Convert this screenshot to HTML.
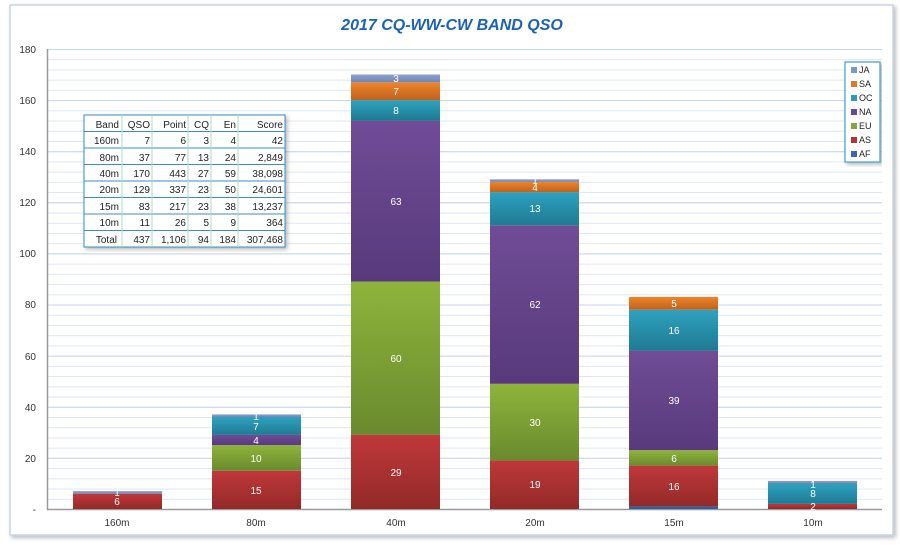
<!DOCTYPE html>
<html><head><meta charset="utf-8"><style>
body{margin:0;background:#fff;}
svg{display:block;font-family:"Liberation Sans",sans-serif;}
</style></head><body>
<svg width="900" height="545" viewBox="0 0 900 545">
<defs>
<pattern id="g" x="0" y="509" width="900" height="10.2222" patternUnits="userSpaceOnUse">
<line x1="0" y1="0.5" x2="900" y2="0.5" stroke="#dce6f4" stroke-width="1"/>
</pattern>
<linearGradient id="AS" x1="0" y1="0" x2="0" y2="1"><stop offset="0" stop-color="#c0383a"/><stop offset="1" stop-color="#922a28"/></linearGradient>
<linearGradient id="EU" x1="0" y1="0" x2="0" y2="1"><stop offset="0" stop-color="#8eb43c"/><stop offset="1" stop-color="#6a8a2e"/></linearGradient>
<linearGradient id="NA" x1="0" y1="0" x2="0" y2="1"><stop offset="0" stop-color="#704c96"/><stop offset="1" stop-color="#583a7c"/></linearGradient>
<linearGradient id="OC" x1="0" y1="0" x2="0" y2="1"><stop offset="0" stop-color="#2ea2c0"/><stop offset="1" stop-color="#1f7a92"/></linearGradient>
<linearGradient id="SA" x1="0" y1="0" x2="0" y2="1"><stop offset="0" stop-color="#ee8428"/><stop offset="1" stop-color="#c0621e"/></linearGradient>
<linearGradient id="JA" x1="0" y1="0" x2="0" y2="1"><stop offset="0" stop-color="#8ea2cc"/><stop offset="1" stop-color="#6e84b4"/></linearGradient>
<filter id="sh" x="-5%" y="-5%" width="110%" height="110%"><feDropShadow dx="2" dy="2" stdDeviation="2" flood-color="#888" flood-opacity="0.6"/></filter>
</defs>
<rect x="10" y="5" width="883" height="530" fill="#fff" stroke="#c8d4e8" stroke-width="1.5" filter="url(#sh)"/>
<text x="452" y="30" text-anchor="middle" font-size="16" font-weight="bold" font-style="italic" fill="#1a62b8">2017 CQ-WW-CW BAND QSO</text>
<rect x="47" y="49" width="835" height="460" fill="url(#g)"/>
<g stroke="#c6d4ea" stroke-width="1">
<line x1="47" y1="49.5" x2="882" y2="49.5"/><line x1="47" y1="100.6" x2="882" y2="100.6"/><line x1="47" y1="151.7" x2="882" y2="151.7"/><line x1="47" y1="202.8" x2="882" y2="202.8"/><line x1="47" y1="253.9" x2="882" y2="253.9"/><line x1="47" y1="305" x2="882" y2="305"/><line x1="47" y1="356.1" x2="882" y2="356.1"/><line x1="47" y1="407.2" x2="882" y2="407.2"/><line x1="47" y1="458.3" x2="882" y2="458.3"/>
</g>
<line x1="47.5" y1="49" x2="47.5" y2="510" stroke="#999" stroke-width="1.5"/>
<line x1="47" y1="509.5" x2="882" y2="509.5" stroke="#999" stroke-width="1.5"/>
<g font-size="10" fill="#333" text-anchor="end">
<text x="36" y="53">180</text><text x="36" y="104">160</text><text x="36" y="155">140</text><text x="36" y="206">120</text><text x="36" y="257">100</text><text x="36" y="308">80</text><text x="36" y="360">60</text><text x="36" y="411">40</text><text x="36" y="462">20</text><text x="36" y="513">-</text>
</g>
<g font-size="10" fill="#333" text-anchor="middle">
<text x="117" y="526">160m</text><text x="256" y="526">80m</text><text x="396" y="526">40m</text><text x="535" y="526">20m</text><text x="674" y="526">15m</text><text x="813" y="526">10m</text>
</g>
<g>
<rect x="73" y="493.7" width="89" height="15.3" fill="url(#AS)"/>
<rect x="73" y="491.1" width="89" height="2.6" fill="url(#JA)"/>
<rect x="212" y="470.7" width="89" height="38.3" fill="url(#AS)"/>
<rect x="212" y="445.1" width="89" height="25.6" fill="url(#EU)"/>
<rect x="212" y="434.9" width="89" height="10.2" fill="url(#NA)"/>
<rect x="212" y="417" width="89" height="17.9" fill="url(#OC)"/>
<rect x="212" y="414.4" width="89" height="2.6" fill="url(#JA)"/>
<rect x="351" y="434.9" width="89" height="74.1" fill="url(#AS)"/>
<rect x="351" y="281.6" width="89" height="153.3" fill="url(#EU)"/>
<rect x="351" y="120.6" width="89" height="161" fill="url(#NA)"/>
<rect x="351" y="100.2" width="89" height="20.4" fill="url(#OC)"/>
<rect x="351" y="82.3" width="89" height="17.9" fill="url(#SA)"/>
<rect x="351" y="74.5" width="89" height="7.8" fill="url(#JA)"/>
<rect x="490" y="460.4" width="89" height="48.6" fill="url(#AS)"/>
<rect x="490" y="383.8" width="89" height="76.6" fill="url(#EU)"/>
<rect x="490" y="225.3" width="89" height="158.5" fill="url(#NA)"/>
<rect x="490" y="192.1" width="89" height="33.2" fill="url(#OC)"/>
<rect x="490" y="181.9" width="89" height="10.2" fill="url(#SA)"/>
<rect x="490" y="179.3" width="89" height="2.6" fill="url(#JA)"/>
<rect x="629" y="506.4" width="89" height="2.6" fill="#2f5f9e"/>
<rect x="629" y="465.6" width="89" height="40.8" fill="url(#AS)"/>
<rect x="629" y="450.2" width="89" height="15.4" fill="url(#EU)"/>
<rect x="629" y="350.6" width="89" height="99.6" fill="url(#NA)"/>
<rect x="629" y="309.7" width="89" height="40.9" fill="url(#OC)"/>
<rect x="629" y="296.9" width="89" height="12.8" fill="url(#SA)"/>
<rect x="768" y="503.9" width="89" height="5.1" fill="url(#AS)"/>
<rect x="768" y="483.5" width="89" height="20.4" fill="url(#OC)"/>
<rect x="768" y="480.9" width="89" height="2.6" fill="url(#JA)"/>
</g>
<g font-size="10" fill="#fff" text-anchor="middle">
<text x="117" y="505">6</text><text x="117" y="496">1</text>
<text x="256" y="494">15</text><text x="256" y="462">10</text><text x="256" y="444">4</text><text x="256" y="430">7</text><text x="256" y="420">1</text>
<text x="396" y="476">29</text><text x="396" y="362">60</text><text x="396" y="205">63</text><text x="396" y="114">8</text><text x="396" y="95">7</text><text x="396" y="82">3</text>
<text x="535" y="488">19</text><text x="535" y="426">30</text><text x="535" y="308">62</text><text x="535" y="212">13</text><text x="535" y="191">4</text><text x="535" y="184">1</text>
<text x="674" y="490">16</text><text x="674" y="462">6</text><text x="674" y="404">39</text><text x="674" y="334">16</text><text x="674" y="307">5</text>
<text x="813" y="510">2</text><text x="813" y="497">8</text><text x="813" y="488">1</text>
</g>
<!-- table -->
<g filter="url(#sh)"><rect x="84" y="115" width="201" height="132" fill="#fff" stroke="#3a8cc4" stroke-width="1"/></g>
<g stroke="#3a8cc4" stroke-width="1">
<line x1="84" y1="131.5" x2="285" y2="131.5"/><line x1="84" y1="148" x2="285" y2="148"/><line x1="84" y1="164.5" x2="285" y2="164.5"/><line x1="84" y1="181" x2="285" y2="181"/><line x1="84" y1="197.5" x2="285" y2="197.5"/><line x1="84" y1="214" x2="285" y2="214"/><line x1="84" y1="230.5" x2="285" y2="230.5"/>
</g>
<g stroke="#a8dcc0" stroke-width="1">
<line x1="122" y1="115" x2="122" y2="247"/><line x1="152" y1="115" x2="152" y2="247"/><line x1="188" y1="115" x2="188" y2="247"/><line x1="211" y1="115" x2="211" y2="247"/><line x1="238" y1="115" x2="238" y2="247"/>
</g>
<g font-size="10" fill="#222" text-anchor="end">
<text x="119" y="128">Band</text><text x="150" y="128">QSO</text><text x="186" y="128">Point</text><text x="209" y="128">CQ</text><text x="236" y="128">En</text><text x="283" y="128">Score</text>
<text x="119" y="144">160m</text><text x="150" y="144">7</text><text x="186" y="144">6</text><text x="209" y="144">3</text><text x="236" y="144">4</text><text x="283" y="144">42</text>
<text x="119" y="161">80m</text><text x="150" y="161">37</text><text x="186" y="161">77</text><text x="209" y="161">13</text><text x="236" y="161">24</text><text x="283" y="161">2,849</text>
<text x="119" y="177">40m</text><text x="150" y="177">170</text><text x="186" y="177">443</text><text x="209" y="177">27</text><text x="236" y="177">59</text><text x="283" y="177">38,098</text>
<text x="119" y="193">20m</text><text x="150" y="193">129</text><text x="186" y="193">337</text><text x="209" y="193">23</text><text x="236" y="193">50</text><text x="283" y="193">24,601</text>
<text x="119" y="210">15m</text><text x="150" y="210">83</text><text x="186" y="210">217</text><text x="209" y="210">23</text><text x="236" y="210">38</text><text x="283" y="210">13,237</text>
<text x="119" y="226">10m</text><text x="150" y="226">11</text><text x="186" y="226">26</text><text x="209" y="226">5</text><text x="236" y="226">9</text><text x="283" y="226">364</text>
<text x="117" y="243">Total</text><text x="150" y="243">437</text><text x="186" y="243">1,106</text><text x="209" y="243">94</text><text x="236" y="243">184</text><text x="283" y="243">307,468</text>
</g>
<!-- legend -->
<g filter="url(#sh)"><rect x="845" y="62" width="35" height="100" fill="#fff" stroke="#3aa0d8" stroke-width="1.2"/></g>
<g>
<rect x="851" y="67" width="6" height="6" fill="#7b96c8"/>
<rect x="851" y="81" width="6" height="6" fill="#e07a28"/>
<rect x="851" y="95" width="6" height="6" fill="#2a9cb8"/>
<rect x="851" y="109" width="6" height="6" fill="#6a4a94"/>
<rect x="851" y="123" width="6" height="6" fill="#84a83a"/>
<rect x="851" y="137" width="6" height="6" fill="#b03432"/>
<rect x="851" y="151" width="6" height="6" fill="#3a6aa8"/>
</g>
<g font-size="9" fill="#222">
<text x="859" y="73">JA</text><text x="859" y="87">SA</text><text x="859" y="101">OC</text><text x="859" y="115">NA</text><text x="859" y="129">EU</text><text x="859" y="143">AS</text><text x="859" y="157">AF</text>
</g>
</svg>
</body></html>
